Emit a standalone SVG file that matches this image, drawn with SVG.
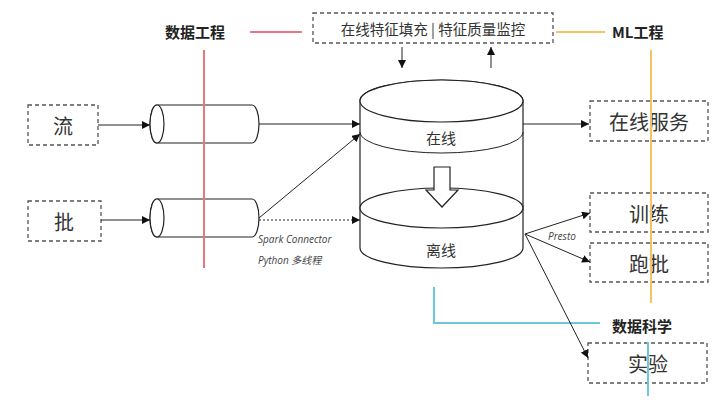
<svg xmlns="http://www.w3.org/2000/svg" width="728" height="402" viewBox="0 0 728 402">
<defs>
<marker id="ah" viewBox="0 0 10 10" refX="10" refY="5" markerWidth="8" markerHeight="8" markerUnits="userSpaceOnUse" orient="auto"><path d="M0,0 L10,5 L0,10 z" fill="#111"/></marker>
<style>
.box{fill:#fff;stroke:#555;stroke-width:1.3;stroke-dasharray:4 3}
.lbl{font-family:"Noto Sans CJK SC","Noto Sans",sans-serif;fill:#333;text-anchor:middle;dominant-baseline:central}
.big{font-size:20px}
.hdr{font-family:"Noto Sans CJK SC","Noto Sans",sans-serif;font-weight:bold;font-size:15px;fill:#222;dominant-baseline:central}
.sm{font-family:"Open Sans","Noto Sans CJK SC",sans-serif;font-style:italic;font-size:10px;fill:#444}
.cyl{fill:#fff;stroke:#222;stroke-width:1.2}
.ln{stroke:#222;stroke-width:1;fill:none}
</style>
</defs>
<rect width="728" height="402" fill="#fff"/>

<g id="labels">
<text class="hdr" x="165" y="31">数据工程</text>
<text class="hdr" x="612" y="31">ML工程</text>
<text class="hdr" x="612" y="325">数据科学</text>
<text class="sm" x="258" y="243">Spark Connector</text>
<text class="sm" x="258" y="264">Python 多线程</text>
<text class="sm" x="548" y="240">Presto</text>
</g>

<g id="top-box"><rect class="box" x="313" y="13" width="240" height="30"/><text class="lbl" x="433" y="28" font-size="14.5">在线特征填充 | 特征质量监控</text></g>
<g id="n-stream"><rect class="box" x="28" y="105" width="70" height="40"/><text class="lbl big" x="63" y="125">流</text></g>
<g id="n-batch"><rect class="box" x="28" y="201" width="73" height="40"/><text class="lbl big" x="64" y="221">批</text></g>

<g id="q1"><path class="cyl" d="M157,105 H252 A7,19 0 0 1 252,143 H157 A7,19 0 0 1 157,105 Z"/><ellipse class="cyl" cx="157" cy="124" rx="7" ry="19"/></g>
<g id="q2"><path class="cyl" d="M157,199 H252 A7,19 0 0 1 252,237 H157 A7,19 0 0 1 157,199 Z"/><ellipse class="cyl" cx="157" cy="218" rx="7" ry="19"/></g>

<g id="store">
<path class="cyl" d="M360,101 A81.5,21 0 0 1 523,101 V248 A81.5,20 0 0 1 360,248 Z"/>
<ellipse class="cyl" cx="441.5" cy="101" rx="81.5" ry="21"/>
<path class="ln" d="M360,132 A81.5,21 0 0 0 523,132" stroke-width="1.2"/>
<ellipse class="cyl" cx="441.5" cy="208" rx="81.5" ry="20"/>
<path class="cyl" d="M434,167 H450 V190 H458 L442,207 L426,190 H434 Z"/>
<text class="lbl" x="441" y="137" font-size="15">在线</text>
<text class="lbl" x="441" y="249" font-size="15">离线</text>
</g>

<g id="n-online"><rect class="box" x="590" y="101" width="118" height="40"/><text class="lbl big" x="649" y="121">在线服务</text></g>
<g id="n-train"><rect class="box" x="590" y="193" width="118" height="39"/><text class="lbl big" x="649" y="213">训练</text></g>
<g id="n-run"><rect class="box" x="590" y="243" width="118" height="39"/><text class="lbl big" x="649" y="263">跑批</text></g>
<g id="n-exp"><rect class="box" x="588" y="343" width="119" height="40"/><text class="lbl big" x="648" y="363">实验</text></g>

<g id="guides" fill="none" stroke-width="2">
<path d="M250,32 H302" stroke="#e8777f"/>
<path d="M204,50 V268" stroke="#e8777f"/>
<path d="M556,32 H605" stroke="#f5c363"/>
<path d="M651,50 V303" stroke="#f5c363"/>
<path d="M434,287 V323 H600" stroke="#6cc6dc"/>
<path d="M648,342 V396" stroke="#6cc6dc"/>
</g>

<g id="connectors" class="ln" marker-end="url(#ah)">
<path d="M402,47 V68"/>
<path d="M491,68 V47"/>
<path d="M98,125 H150"/>
<path d="M101,220 H150"/>
<path d="M259,124 H360"/>
<path d="M259,218 L360,134"/>
<path d="M259,220 H360" stroke-dasharray="2 2"/>
<path d="M523,124 H589"/>
<path d="M525,234 L590,213"/>
<path d="M525,234 L590,262"/>
<path d="M525,234 L588,358"/>
</g>
</svg>
